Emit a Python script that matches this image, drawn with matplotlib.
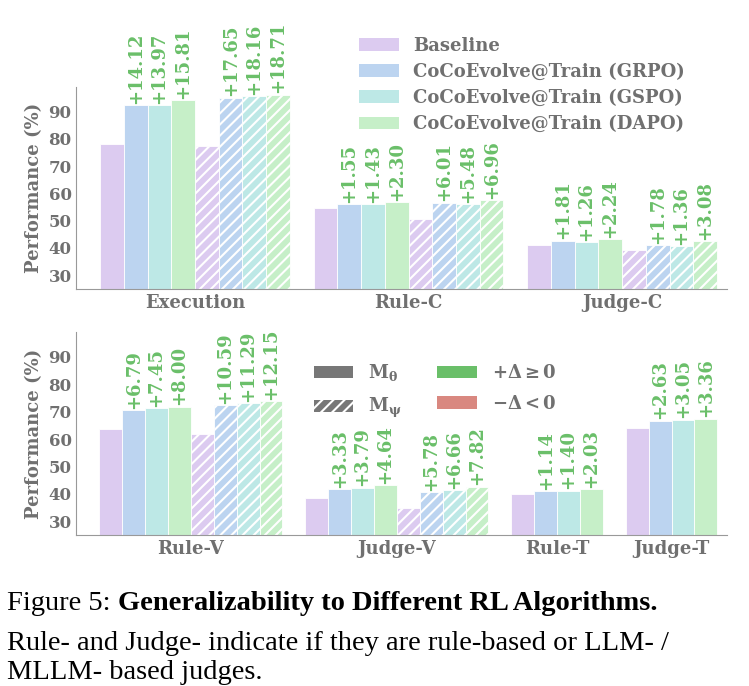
import numpy as np
import matplotlib.pyplot as plt
from matplotlib.patches import Patch

plt.rcParams['font.family'] = 'DejaVu Serif'
plt.rcParams['mathtext.fontset'] = 'dejavuserif'
plt.rcParams['hatch.color'] = 'white'
plt.rcParams['hatch.linewidth'] = 1.5

# data
methods = ['Baseline', 'CoCoEvolve@Train (GRPO)', 'CoCoEvolve@Train (GSPO)', 'CoCoEvolve@Train (DAPO)']
colors = ['#dccbf0', '#bcd4f0', '#bde8e6', '#c6efc8']

top_groups = ['Execution', 'Rule-C', 'Judge-C']
top_base0 = [78.3, 54.6, 40.9]
top_delta0 = [[14.12, 13.97, 15.81], [1.55, 1.43, 2.30], [1.81, 1.26, 2.24]]
top_base1 = [77.5, 50.6, 39.3]
top_delta1 = [[17.65, 18.16, 18.71], [6.01, 5.48, 6.96], [1.78, 1.36, 3.08]]

bot_groups = ['Rule-V', 'Judge-V', 'Rule-T', 'Judge-T']
bot_base0 = [63.8, 38.5, 39.8, 64.0]
bot_delta0 = [[6.79, 7.45, 8.00], [3.33, 3.79, 4.64], [1.14, 1.40, 2.03], [2.63, 3.05, 3.36]]
bot_base1 = [61.7, 34.8, None, None]
bot_delta1 = [[10.59, 11.29, 12.15], [5.78, 6.66, 7.82], None, None]

grey = '#707070'
green = '#6abf69'
red = '#d98880'


def draw_set(ax, x0, base, deltas, hatch):
    vals = [base] + [base + d for d in deltas]
    for i, v in enumerate(vals):
        ax.bar(x0 + i, v - 25, bottom=25, width=1, color=colors[i], hatch=hatch,
               edgecolor='white', linewidth=0.6, align='edge')
        if i > 0:
            ax.text(x0 + i + 0.5, v + 0.5, '+%.2f' % deltas[i - 1], rotation=90,
                    ha='center', va='bottom', color=green, fontsize=13,
                    fontweight='bold')


def draw_panel(ax, groups, b0, d0, b1, d1):
    x = 0
    centers = []
    for g in range(len(groups)):
        draw_set(ax, x, b0[g], d0[g], None)
        if b1[g] is not None:
            draw_set(ax, x + 4, b1[g], d1[g], '///')
            centers.append(x + 4)
            x += 9
        else:
            centers.append(x + 2)
            x += 5
    ax.set_xlim(-1, x - 0.6)
    ax.set_ylim(25, 99)
    ax.set_yticks([30, 40, 50, 60, 70, 80, 90])
    ax.set_xticks(centers)
    ax.tick_params(length=0, colors=grey, labelsize=12)
    for lab in ax.get_yticklabels():
        lab.set_fontweight('bold')
    ax.set_xticklabels(groups, fontsize=13, fontweight='bold')
    ax.set_ylabel('Performance (%)', fontsize=13, fontweight='bold', color=grey)
    for s in ['top', 'right']:
        ax.spines[s].set_visible(False)
    for s in ['left', 'bottom']:
        ax.spines[s].set_color('#999999')


fig = plt.figure(figsize=(7.49, 6.86), dpi=100)
ax1 = fig.add_axes([0.102, 0.579, 0.868, 0.294])
ax2 = fig.add_axes([0.102, 0.220, 0.868, 0.296])

draw_panel(ax1, top_groups, top_base0, top_delta0, top_base1, top_delta1)
draw_panel(ax2, bot_groups, bot_base0, bot_delta0, bot_base1, bot_delta1)

handles = [Patch(facecolor=c) for c in colors]
leg = ax1.legend(handles, methods, loc='upper left', bbox_to_anchor=(0.41, 1.33),
                 frameon=False, prop={'size': 13, 'weight': 'bold'},
                 handlelength=2.2, labelspacing=0.45)
for t in leg.get_texts():
    t.set_color(grey)

h2 = [Patch(facecolor='#777777'), Patch(facecolor='#777777', hatch='///'),
      Patch(facecolor=green), Patch(facecolor=red)]
l2 = [r'$\mathbf{M_\theta}$', r'$\mathbf{M_\psi}$', r'$\mathbf{+\Delta\geq 0}$', r'$\mathbf{-\Delta<0}$']
leg2 = ax2.legend(h2, l2, loc='upper left', bbox_to_anchor=(0.34, 0.93), ncol=2,
                  frameon=False, prop={'size': 13, 'weight': 'bold'},
                  handlelength=2.2, columnspacing=2.0, labelspacing=0.7)
for t in leg2.get_texts():
    t.set_color(grey)

cap = dict(fontsize=20.5, family='Liberation Serif', va='center')
t1 = fig.text(0.01, 0.12, 'Figure 5: ', **cap)
fig.canvas.draw()
bb = t1.get_window_extent()
fig.text(bb.x1 / fig.bbox.width, 0.12, 'Generalizability to Different RL Algorithms.',
         fontweight='bold', **cap)
fig.text(0.01, 0.062, 'Rule- and Judge- indicate if they are rule-based or LLM- /', **cap)
fig.text(0.01, 0.02, 'MLLM- based judges.', **cap)

fig.savefig('out.png', dpi=100)
